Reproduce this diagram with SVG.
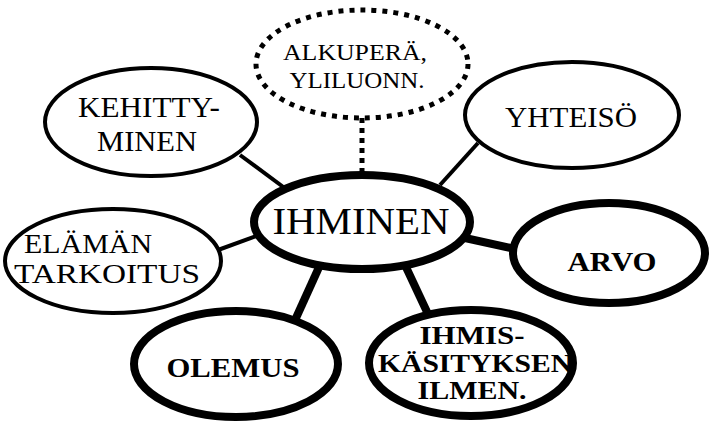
<svg xmlns="http://www.w3.org/2000/svg" width="717" height="423" viewBox="0 0 717 423">
<style>
text{fill:#000;text-anchor:middle}
.n{fill:#fff;stroke:#000}
.thin{stroke-width:4}
.thick{stroke-width:8}
.c{stroke:#000;fill:none}
</style>
<rect width="717" height="423" fill="#fff"/>
<g id="connectors">
<line class="c" x1="362" y1="118" x2="362" y2="176" stroke-width="5" stroke-dasharray="5,5"/>
<line class="c thin" x1="240" y1="155" x2="290" y2="192"/>
<line class="c thin" x1="478" y1="143" x2="440" y2="185"/>
<line class="c thin" x1="218" y1="250" x2="262" y2="234"/>
<line class="c thick" x1="465" y1="238" x2="520" y2="250"/>
<line class="c thick" x1="320" y1="265" x2="296" y2="318"/>
<line class="c thick" x1="405" y1="265" x2="428" y2="314"/>
</g>
<g font-family="'Liberation Serif', Tinos, 'Times New Roman', Times, 'Noto Serif', 'DejaVu Serif', FreeSerif, serif" lengthAdjust="spacingAndGlyphs">
<g id="alkupera">
<ellipse class="n" cx="362" cy="64" rx="106" ry="54" stroke-width="5" stroke-dasharray="5,6"/>
<text x="355" y="60" font-size="24" textLength="144" lengthAdjust="spacingAndGlyphs">ALKUPERÄ,</text>
<text x="357" y="88" font-size="24" textLength="135" lengthAdjust="spacingAndGlyphs">YLILUONN.</text>
</g>
<g id="kehittyminen">
<ellipse class="n thin" cx="151" cy="122" rx="106" ry="54"/>
<text x="149" y="117" font-size="29" textLength="142" lengthAdjust="spacingAndGlyphs">KEHITTY-</text>
<text x="147" y="151" font-size="29" textLength="100" lengthAdjust="spacingAndGlyphs">MINEN</text>
</g>
<g id="yhteiso">
<ellipse class="n thin" cx="572" cy="115" rx="107" ry="53"/>
<text x="571" y="127" font-size="29" textLength="132" lengthAdjust="spacingAndGlyphs">YHTEISÖ</text>
</g>
<g id="elaman">
<ellipse class="n thin" cx="113" cy="261" rx="108" ry="52"/>
<text x="88" y="253" font-size="28" textLength="128" lengthAdjust="spacingAndGlyphs">ELÄMÄN</text>
<text x="107" y="283" font-size="28" textLength="186" lengthAdjust="spacingAndGlyphs">TARKOITUS</text>
</g>
<g id="ihminen">
<ellipse class="n" cx="362" cy="222" rx="108" ry="47" stroke-width="8"/>
<text x="361" y="234" font-size="37" textLength="177" lengthAdjust="spacingAndGlyphs">IHMINEN</text>
</g>
<g id="arvo">
<ellipse class="n thick" cx="609" cy="253" rx="96" ry="50"/>
<text x="612" y="271" font-size="28" font-weight="bold" textLength="89" lengthAdjust="spacingAndGlyphs">ARVO</text>
</g>
<g id="olemus">
<ellipse class="n thick" cx="236" cy="364" rx="102" ry="53"/>
<text x="233" y="377" font-size="28" font-weight="bold" textLength="133" lengthAdjust="spacingAndGlyphs">OLEMUS</text>
</g>
<g id="ihmiskasitys">
<ellipse class="n thick" cx="471" cy="363" rx="102" ry="53"/>
<text x="472" y="344" font-size="26" font-weight="bold" textLength="105" lengthAdjust="spacingAndGlyphs">IHMIS-</text>
<text x="475" y="372" font-size="26" font-weight="bold" textLength="194" lengthAdjust="spacingAndGlyphs">KÄSITYKSEN</text>
<text x="472" y="399" font-size="26" font-weight="bold" textLength="109" lengthAdjust="spacingAndGlyphs">ILMEN.</text>
</g>
</g>
</svg>
